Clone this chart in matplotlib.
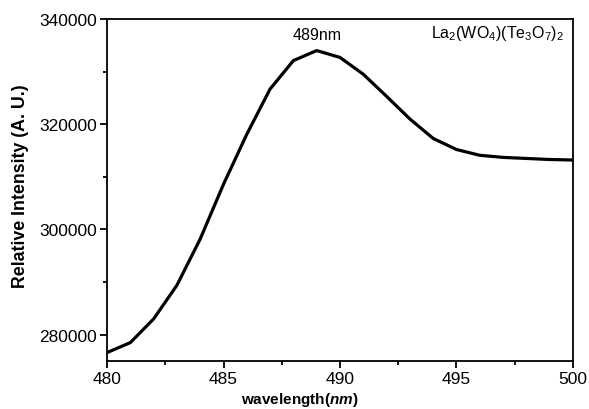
import numpy as np
import matplotlib.pyplot as plt
from matplotlib.ticker import MultipleLocator

plt.rcParams["font.family"] = ["Liberation Sans", "DejaVu Sans"]
plt.rcParams["mathtext.fontset"] = "custom"
plt.rcParams["mathtext.rm"] = "Liberation Sans"
plt.rcParams["mathtext.it"] = "Liberation Sans:italic:bold"
plt.rcParams["mathtext.bf"] = "Liberation Sans:bold"

# Emission spectrum
wavelength = [480, 481, 482, 483, 484, 485, 486, 487, 488, 489, 490,
              491, 492, 493, 494, 495, 496, 497, 498, 499, 500]
intensity = [276600, 278500, 283000, 289400, 298200, 308600, 318100,
             326700, 332100, 334000, 332700, 329500, 325300, 321000,
             317300, 315200, 314100, 313700, 313500, 313300, 313200]

peak_label = "489nm"
sample_label = r"La$_2$(WO$_4$)(Te$_3$O$_7$)$_2$"

fig = plt.figure(figsize=(5.89, 4.10), dpi=100)
ax = fig.add_axes([0.1817, 0.117, 0.7911, 0.8342])

ax.plot(wavelength, intensity, color="black", lw=2.3)

ax.set_xlim(480, 500)
ax.set_ylim(275000, 340000)
ax.xaxis.set_major_locator(MultipleLocator(5))
ax.xaxis.set_minor_locator(MultipleLocator(2.5))
ax.yaxis.set_major_locator(MultipleLocator(20000))
ax.yaxis.set_minor_locator(MultipleLocator(10000))

for s in ax.spines.values():
    s.set_linewidth(1.3)
ax.tick_params(which="major", direction="out", length=5, width=1.3,
               labelsize=12.5, pad=2)
ax.tick_params(which="minor", direction="out", length=3, width=1.3)

ax.set_xlabel(r"wavelength($nm$)", fontsize=11, fontweight="bold")
ax.xaxis.set_label_coords(0.414, -0.085)
ax.set_ylabel("Relative Intensity (A. U.)", fontsize=12.8,
              fontweight="bold")
ax.yaxis.set_label_coords(-0.168, 0.515)

ax.text(489, 335600, peak_label, ha="center", va="bottom", fontsize=11.5)
ax.text(499.6, 335600, sample_label, ha="right", va="bottom", fontsize=11.5)

fig.savefig("out.png", dpi=100)
